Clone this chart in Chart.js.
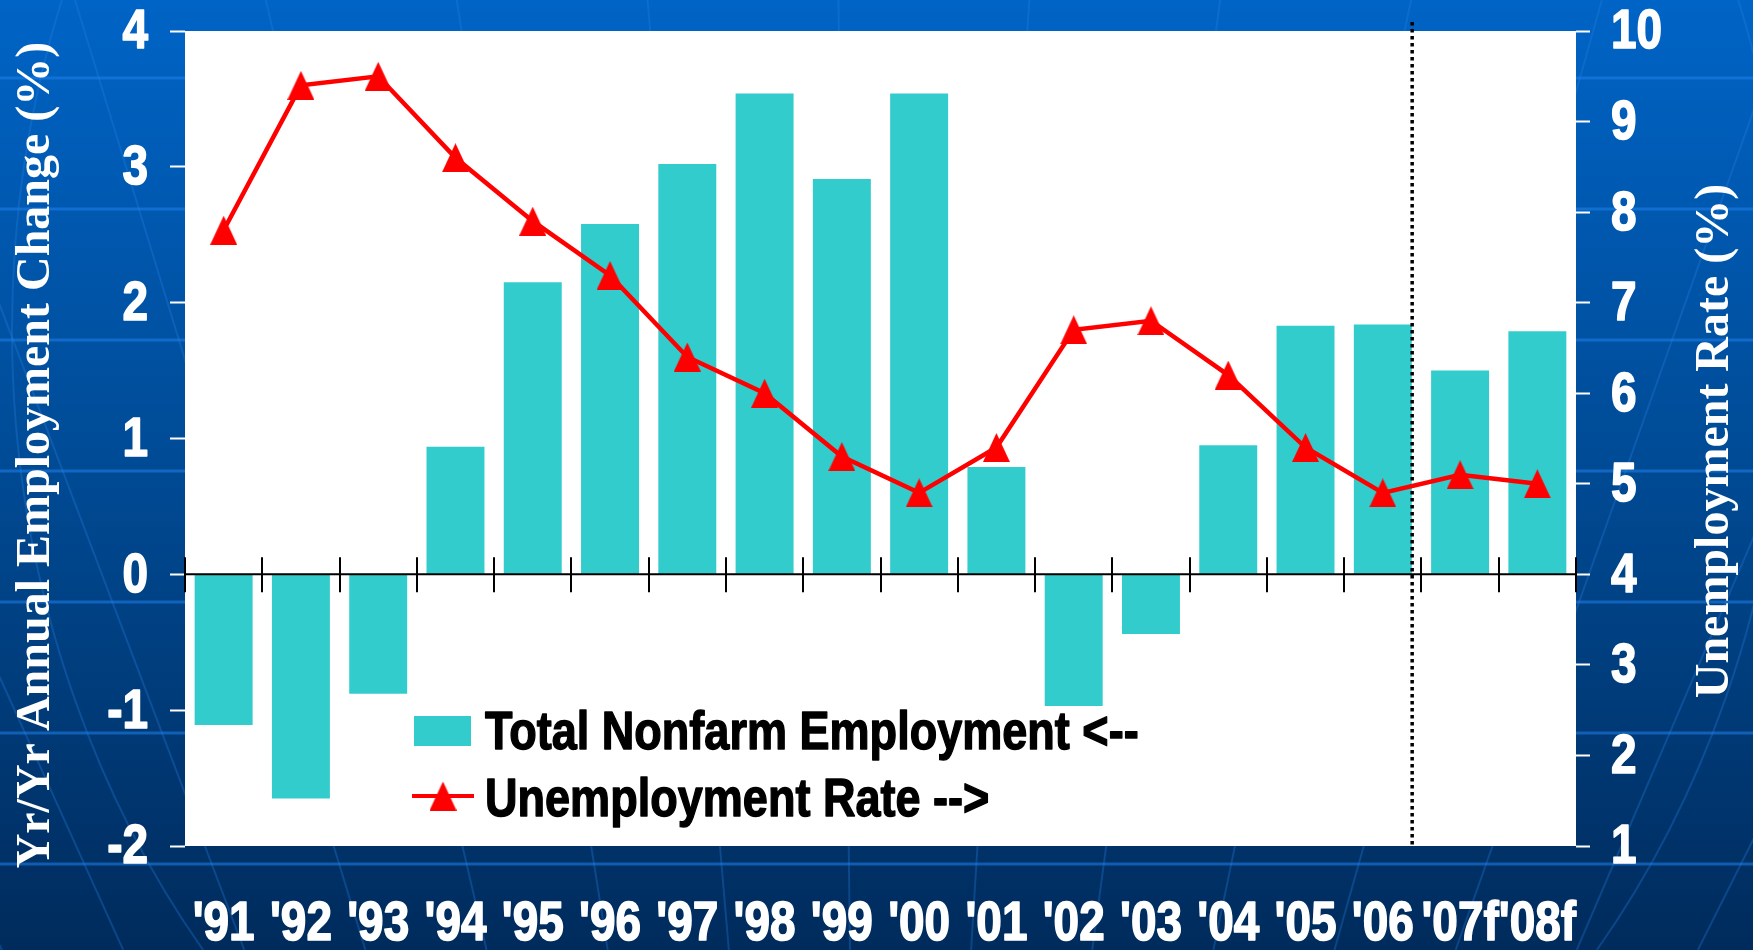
<!DOCTYPE html>
<html>
<head>
<meta charset="utf-8">
<title>Employment Change and Unemployment Rate</title>
<script src="https://cdn.jsdelivr.net/npm/chart.js@4.4.1/dist/chart.umd.min.js"></script>
<style>
  html, body { margin: 0; padding: 0; background: #003566; }
  #wrap { width: 1753px; height: 950px; }
</style>
</head>
<body>
<div id="wrap"><canvas id="jobsChart" width="1753" height="950"></canvas></div>
<script>
// Données
const years = ["'91", "'92", "'93", "'94", "'95", "'96", "'97", "'98", "'99", "'00",
               "'01", "'02", "'03", "'04", "'05", "'06", "'07f", "'08f"];
const nonfarmChange = [-1.11, -1.65, -0.88, 0.94, 2.15, 2.58, 3.02, 3.54, 2.91, 3.54,
                       0.79, -0.97, -0.44, 0.95, 1.83, 1.84, 1.50, 1.79];
const unemploymentRate = [7.8, 9.4, 9.5, 8.6, 7.9, 7.3, 6.4, 6.0, 5.3, 4.9,
                          5.4, 6.7, 6.8, 6.2, 5.4, 4.9, 5.1, 5.0];
const changeTicks = [-2, -1, 0, 1, 2, 3, 4];
const rateTicks = [1, 2, 3, 4, 5, 6, 7, 8, 9, 10];
const seriesLabels = ['Total Nonfarm Employment <--', 'Unemployment Rate -->'];
const axisTitles = ['Yr/Yr Annual Employment Change (%)', 'Unemployment Rate (%)'];

const sansFont = '"Liberation Sans", Arial, sans-serif';
const serifFont = '"Liberation Serif", "Times New Roman", serif';
const barColor = '#33cccc';
const lineColor = '#ff0000';
// pas de police étroite installée : on compresse le texte à la main
const squeeze = 0.82;

// marqueur triangle (plus haut que large, comme dans l'original)
function makeTriangle(w, h, color) {
    const c = document.createElement('canvas');
    c.width = w;
    c.height = h;
    const g = c.getContext('2d');
    g.fillStyle = color;
    g.beginPath();
    g.moveTo(w / 2, 0);
    g.lineTo(w, h);
    g.lineTo(0, h);
    g.closePath();
    g.fill();
    return c;
}
const triangle = makeTriangle(27, 29, lineColor);

// texte compressé horizontalement, un peu épaissi par un contour
function narrowText(ctx, text, x, y, sx) {
    ctx.save();
    ctx.translate(x, y);
    ctx.scale(sx, 1);
    ctx.fillText(text, 0, 0);
    ctx.strokeText(text, 0, 0);
    ctx.restore();
}

// Fond bleu + zone de tracé blanche
const backdrop = {
    id: 'backdrop',
    beforeDraw(chart) {
        const { ctx, width, height, chartArea } = chart;
        ctx.save();
        const grad = ctx.createLinearGradient(0, 0, 0, height);
        grad.addColorStop(0, '#0064c6');
        grad.addColorStop(0.5, '#004a94');
        grad.addColorStop(1, '#002b5c');
        ctx.fillStyle = grad;
        ctx.fillRect(0, 0, width, height);

        ctx.strokeStyle = 'rgba(30, 130, 235, 0.55)';
        ctx.lineWidth = 3;
        [78, 209, 340, 471, 602, 733, 864].forEach(y => {
            ctx.beginPath();
            ctx.moveTo(0, y);
            ctx.lineTo(width, y);
            ctx.stroke();
        });

        ctx.strokeStyle = 'rgba(40, 130, 230, 0.3)';
        ctx.lineWidth = 2;
        for (let k = -7; k <= 8; k++) {
            const xb = 722 + k * 127;
            const t = 870 / (2600 - 870);
            ctx.beginPath();
            ctx.moveTo(xb + (xb - 870) * t, 0);
            ctx.lineTo(xb - (xb - 870) * (80 / 1730), 950);
            ctx.stroke();
        }
        ctx.beginPath();
        ctx.ellipse(900, 330, 888, 1000, 0, 0, Math.PI * 2);
        ctx.stroke();

        ctx.fillStyle = '#ffffff';
        ctx.fillRect(chartArea.left, chartArea.top,
                     chartArea.right - chartArea.left, chartArea.bottom - chartArea.top);
        ctx.restore();
    }
};

// Ligne du zéro, repères des années et séparation prévisions
const zeroAxis = {
    id: 'zeroAxis',
    afterDatasetDraw(chart, args) {
        if (args.meta.type !== 'bar') return;
        const { ctx, chartArea } = chart;
        const xs = chart.scales.x;
        const y0 = chart.scales.yChange.getPixelForValue(0);
        ctx.save();
        ctx.strokeStyle = '#000';
        ctx.lineWidth = 2;
        ctx.beginPath();
        ctx.moveTo(chartArea.left, y0);
        ctx.lineTo(chartArea.right, y0);
        for (let i = 0; i <= years.length; i++) {
            const x = Math.round(xs.getPixelForValue(i - 0.5));
            ctx.moveTo(x, y0 - 17);
            ctx.lineTo(x, y0 + 18);
        }
        ctx.stroke();

        const xf = xs.getPixelForValue(years.indexOf("'06") + 0.38);
        ctx.lineWidth = 3.5;
        ctx.setLineDash([3.5, 3.5]);
        ctx.beginPath();
        ctx.moveTo(xf, chartArea.top - 9);
        ctx.lineTo(xf, chartArea.bottom + 2);
        ctx.stroke();
        ctx.restore();
    }
};

// Étiquettes des axes (texte compressé), légende et titres
const annotations = {
    id: 'annotations',
    afterDraw(chart) {
        const { ctx } = chart;
        const { x: xs, yChange, yRate } = chart.scales;
        ctx.save();

        ctx.fillStyle = '#fff';
        ctx.strokeStyle = '#fff';
        ctx.lineWidth = 1.6;
        ctx.lineJoin = 'round';
        ctx.font = 'bold 56px ' + sansFont;
        ctx.textBaseline = 'middle';
        ctx.textAlign = 'right';
        yChange.ticks.forEach(t => {
            narrowText(ctx, t.label, 148, yChange.getPixelForValue(t.value) + 2, squeeze);
        });
        ctx.textAlign = 'left';
        yRate.ticks.forEach(t => {
            narrowText(ctx, t.label, 1611, yRate.getPixelForValue(t.value) + 2, squeeze);
        });
        ctx.textAlign = 'center';
        years.forEach((lbl, i) => {
            narrowText(ctx, lbl, xs.getPixelForValue(i), 925, squeeze);
        });

        ctx.fillStyle = barColor;
        ctx.fillRect(414, 716, 57, 30);
        ctx.strokeStyle = lineColor;
        ctx.lineWidth = 4;
        ctx.beginPath();
        ctx.moveTo(412, 796);
        ctx.lineTo(474, 796);
        ctx.stroke();
        ctx.drawImage(triangle, 443 - triangle.width / 2, 796 - triangle.height / 2);

        ctx.fillStyle = '#000';
        ctx.strokeStyle = '#000';
        ctx.lineWidth = 1.4;
        ctx.font = 'bold 53px ' + sansFont;
        ctx.textBaseline = 'middle';
        ctx.textAlign = 'left';
        narrowText(ctx, chart.data.datasets[0].label, 485, 734, 0.85);
        narrowText(ctx, chart.data.datasets[1].label, 485, 801, 0.85);

        ctx.fillStyle = '#fff';
        ctx.font = 'bold 48px ' + serifFont;
        ctx.textAlign = 'center';
        ctx.textBaseline = 'alphabetic';
        [[axisTitles[0], 49, 455], [axisTitles[1], 1728, 441]].forEach(([txt, x, y]) => {
            ctx.save();
            ctx.translate(x, y);
            ctx.rotate(-Math.PI / 2);
            ctx.fillText(txt, 0, 0);
            ctx.restore();
        });
        ctx.restore();
    }
};

new Chart(document.getElementById('jobsChart'), {
    data: {
        labels: years,
        datasets: [
            {
                type: 'bar',
                label: seriesLabels[0],
                data: nonfarmChange,
                yAxisID: 'yChange',
                backgroundColor: barColor,
                borderWidth: 0,
                barPercentage: 0.75,
                categoryPercentage: 1.0,
                order: 1
            },
            {
                type: 'line',
                label: seriesLabels[1],
                data: unemploymentRate,
                yAxisID: 'yRate',
                borderColor: lineColor,
                backgroundColor: lineColor,
                borderWidth: 4.5,
                tension: 0,
                fill: false,
                pointStyle: triangle,
                pointRadius: 14,
                order: 0
            }
        ]
    },
    options: {
        responsive: false,
        devicePixelRatio: 1,
        animation: false,
        layout: { padding: { top: 31, left: 0, right: 0, bottom: 0 } },
        plugins: {
            legend: { display: false },
            tooltip: { enabled: false }
        },
        scales: {
            x: {
                grid: { display: false, drawTicks: false },
                border: { display: false },
                ticks: { display: false, autoSkip: false, maxRotation: 0 },
                afterFit(s) { s.height = 104; s.paddingLeft = 0; s.paddingRight = 0; }
            },
            yChange: {
                position: 'left',
                min: changeTicks[0],
                max: changeTicks[changeTicks.length - 1],
                ticks: { display: false, stepSize: 1 },
                grid: { drawOnChartArea: false, tickLength: 15, tickColor: '#fff', tickWidth: 2 },
                border: { display: false },
                afterFit(s) { s.width = 185; s.paddingTop = 0; s.paddingBottom = 0; }
            },
            yRate: {
                position: 'right',
                min: rateTicks[0],
                max: rateTicks[rateTicks.length - 1],
                ticks: { display: false, stepSize: 1 },
                grid: { drawOnChartArea: false, tickLength: 14, tickColor: '#fff', tickWidth: 2 },
                border: { display: false },
                afterFit(s) { s.width = 177; s.paddingTop = 0; s.paddingBottom = 0; }
            }
        }
    },
    plugins: [backdrop, zeroAxis, annotations]
});
</script>
</body>
</html>
